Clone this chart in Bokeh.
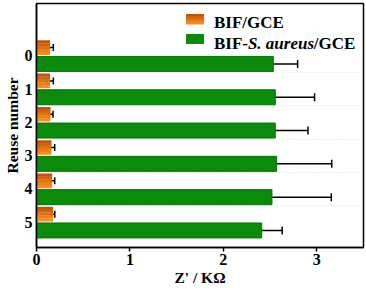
import numpy as np
from bokeh.plotting import figure
from bokeh.models import Range1d, FixedTicker, Whisker, ColumnDataSource, Label, TeeHead
from bokeh.embed import file_html
from bokeh.resources import INLINE

# ---- data ----
reuse = [0, 1, 2, 3, 4, 5]
reuse_labels = ["0", "1", "2", "3", "4", "5"]
bif_gce = [0.145, 0.145, 0.15, 0.16, 0.168, 0.178]
bif_gce_err = [0.035, 0.035, 0.027, 0.035, 0.027, 0.018]
bif_sa = [2.535, 2.556, 2.556, 2.57, 2.52, 2.41]
bif_sa_err = [0.26, 0.42, 0.35, 0.59, 0.635, 0.22]
x_ticks = [0, 1, 2, 3]

FONT = "Liberation Serif"
ORANGES = ["#bb560c", "#cf640e", "#e07112", "#ec7f18", "#f68d22"]
GREEN = "#0b8a0b"

p = figure(width=366, height=291, x_range=Range1d(0, 3.5), y_range=Range1d(5.757, -1.57),
           output_backend="svg", toolbar_location=None,
           min_border_left=35, min_border_right=3, min_border_top=3, min_border_bottom=44)
p.outline_line_color = "black"
p.outline_line_width = 1.5
p.background_fill_color = "white"

# axes
p.xaxis.ticker = FixedTicker(ticks=x_ticks)
p.yaxis.ticker = FixedTicker(ticks=reuse)
p.yaxis.major_label_overrides = {r: l for r, l in zip(reuse, reuse_labels)}
for ax in (p.xaxis, p.yaxis):
    ax.axis_line_color = "black"
    ax.axis_line_width = 1.5
    ax.major_label_text_font = FONT
    ax.major_label_text_font_style = "bold"
    ax.major_label_text_font_size = "16px"
    ax.major_label_text_color = "black"
    ax.minor_tick_line_color = None
    ax.major_tick_in = 0
    ax.axis_label_text_font = FONT
    ax.axis_label_text_font_style = "bold"
    ax.axis_label_text_font_size = "15.5px"
    ax.axis_label_text_color = "black"
p.xaxis.major_tick_out = 4
p.xaxis.major_tick_line_width = 1.5
p.xaxis.major_label_standoff = 2
p.xaxis.axis_label = "Z' / K\u03a9"
p.xaxis.axis_label_standoff = 1
p.yaxis.major_tick_out = 0
p.yaxis.major_tick_line_color = None
p.yaxis.major_label_standoff = 4
p.yaxis.axis_label = "Reuse number"
p.yaxis.axis_label_standoff = 1

p.xgrid.grid_line_color = None
p.ygrid.ticker = FixedTicker(ticks=[r + 0.5 for r in reuse[:-1]])
p.ygrid.grid_line_color = "#e2e2e2"
p.ygrid.grid_line_dash = "1 2"

# orange bars (gradient by strips)
o_h = 0.43
o_top = [r - 0.46 for r in reuse]
n = len(ORANGES)
for i, c in enumerate(ORANGES):
    p.hbar(y=[t + (i + 0.5) * o_h / n for t in o_top], left=0, right=bif_gce,
           height=o_h / n + 0.01, fill_color=c, line_color=None)

# green bars
g_y = [r + 0.245 for r in reuse]
p.hbar(y=g_y, left=0, right=bif_sa, height=0.45, fill_color=GREEN, line_color="#067206", line_width=1)

# error bars
o_y = [t + o_h / 2 for t in o_top]
src_o = ColumnDataSource(dict(y=o_y, lo=[v - e for v, e in zip(bif_gce, bif_gce_err)],
                              hi=[v + e for v, e in zip(bif_gce, bif_gce_err)]))
src_g = ColumnDataSource(dict(y=g_y, lo=[v - e for v, e in zip(bif_sa, bif_sa_err)],
                              hi=[v + e for v, e in zip(bif_sa, bif_sa_err)]))
for src, sz in ((src_o, 7), (src_g, 8)):
    p.add_layout(Whisker(source=src, base="y", lower="lo", upper="hi", dimension="width",
                         line_color="black", line_width=1.5,
                         upper_head=TeeHead(size=sz, line_width=1.5, line_color="black"),
                         lower_head=TeeHead(size=sz, line_width=1.5, line_color="black")))

# pixel -> data helpers (for legend placement)
def dx(px):
    return (px - 35) / 93.7

def dy(py):
    return (py - 55.3) / 33.3

# legend
for i, c in enumerate(ORANGES):
    p.rect(x=[dx(194)], y=[dy(13.7 + 1 + 2 * i)], width=18, height=2.6,
           width_units="screen", height_units="screen", fill_color=c, line_color=None)
p.rect(x=[dx(194)], y=[dy(38.5)], width=18, height=10, width_units="screen", height_units="screen",
       fill_color=GREEN, line_color=None)

def lab(x, y, text, size="17px", style="bold", align="left"):
    p.add_layout(Label(x=x, y=y, text=text, text_font=FONT, text_font_style=style,
                       text_font_size=size, text_align=align, text_baseline="alphabetic",
                       text_color="black"))

lab(dx(213), dy(22.5), "BIF/GCE")
lab(dx(213), dy(43), "BIF-")
lab(dx(247), dy(43), "S. aureus", style="bold italic")
lab(dx(313), dy(43), "/GCE")

open("out.html", "w").write(file_html(p, INLINE))
